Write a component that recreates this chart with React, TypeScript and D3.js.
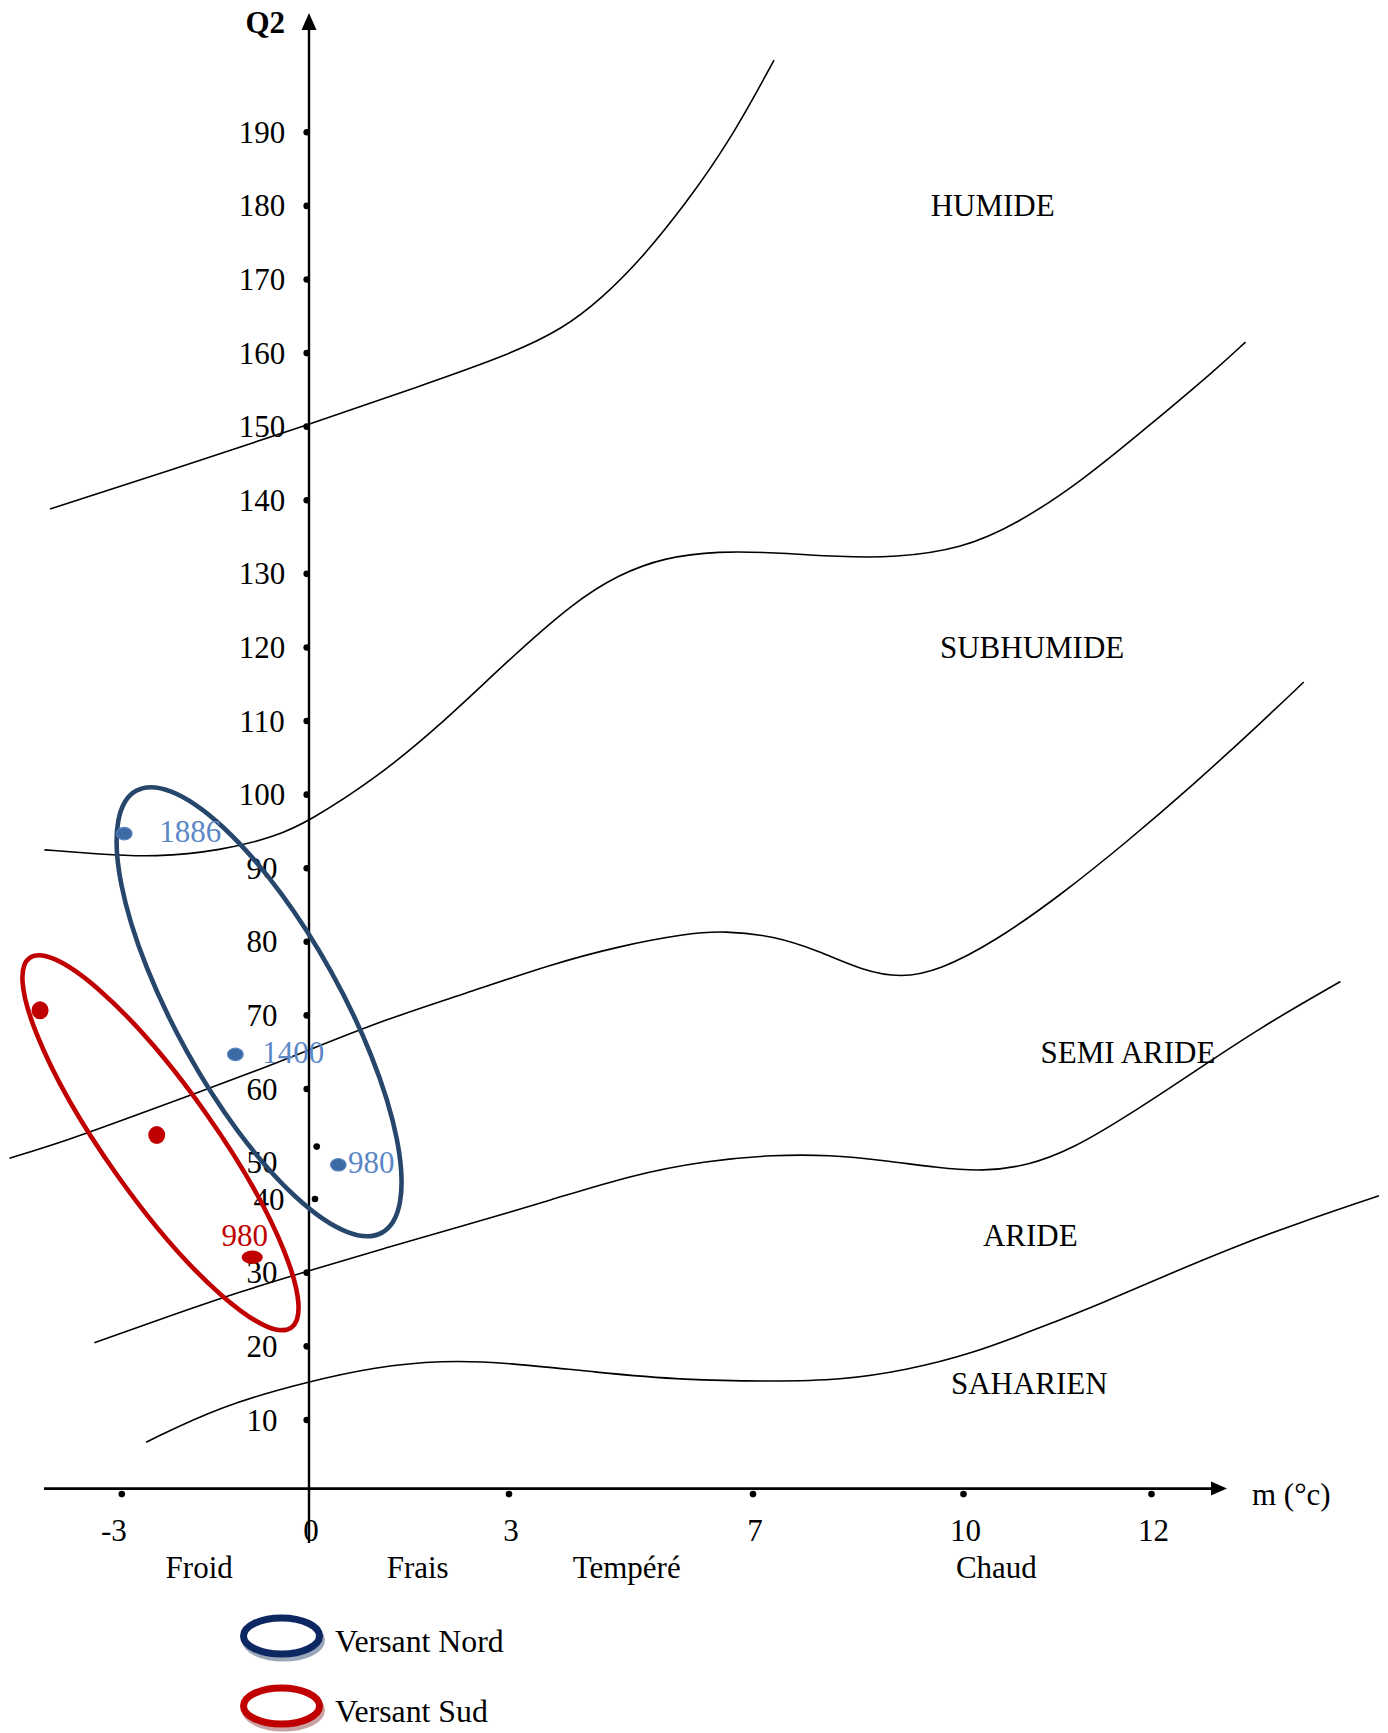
import React, { useEffect, useRef } from 'react';
import * as d3 from 'd3';

// Climagramme d'Emberger : Q2 en fonction de m (°c)

const xTicks = [-3, 0, 3, 7, 10, 12];
const yTicks = [10, 20, 30, 40, 50, 60, 70, 80, 90, 100, 110, 120, 130, 140, 150, 160, 170, 180, 190];

const zoneLabels = ['Froid', 'Frais', 'Tempéré', 'Chaud'];
const zoneM = [-1.76, 1.63, 4.93, 10.35];

const stageLabels = ['HUMIDE', 'SUBHUMIDE', 'SEMI ARIDE', 'ARIDE', 'SAHARIEN'];
const stageM = [10.31, 10.73, 11.75, 10.71, 10.7];
const stageQ = [180, 120, 65, 35, 15];

// limites entre étages [m, Q2]
const humideLimit: [number, number][] = [
  [-4.15, 138.8], [-2.29, 143.9], [0, 150.3], [1.66, 155.5], [2.98, 159.7], [3.89, 163.3],
  [4.53, 167.5], [5.16, 172.7], [5.89, 180.2], [6.62, 188.8], [7.3, 199.8],
];
const subhumideLimit: [number, number][] = [
  [-4.24, 92.5], [-3.35, 91.9], [-2.47, 91.5], [-1.41, 92.4], [-0.53, 94.3], [0, 96.4],
  [0.99, 102.1], [1.99, 109.6], [2.98, 118.2], [4.07, 126.2], [4.8, 129.9], [5.53, 132.2],
  [6.44, 133.1], [7.3, 132.9], [8.24, 132.3], [9.02, 132.2], [9.97, 133.4], [10.56, 136.7],
  [11.27, 142.7], [11.98, 150.2], [12.68, 157.7], [13.0, 161.5],
];
const semiAridLimit: [number, number][] = [
  [-4.8, 50.6], [-3.88, 53.0], [-2.82, 56.3], [-1.76, 59.6], [-0.71, 62.9], [0, 65.3],
  [1.16, 69.5], [2.32, 72.9], [3.71, 77.0], [4.8, 79.4], [5.89, 81.1], [6.53, 81.5],
  [7.3, 80.8], [7.93, 78.8], [8.56, 76.1], [9.11, 75.1], [9.65, 76.1], [10.33, 80.0],
  [11.04, 86.4], [11.74, 93.6], [12.45, 101.4], [13.15, 109.6], [13.62, 115.3],
];
const aridLimit: [number, number][] = [
  [-3.44, 20.5], [-2.29, 23.95], [-1.06, 27.55], [0, 30.25], [1.16, 33.4], [2.32, 36.4],
  [3.71, 39.9], [4.98, 46.5], [6.25, 50.3], [7.3, 51.05], [8.08, 51.05], [8.87, 50.3],
  [9.65, 48.5], [10.21, 47.6], [10.68, 49.1], [11.15, 51.8], [11.74, 56.3], [12.45, 62.3],
  [13.15, 68.3], [14.01, 74.6],
];
const saharienLimit: [number, number][] = [
  [-2.61, 6.77], [-1.41, 11.95], [0, 15.25], [0.99, 17.2], [1.99, 18.1], [2.98, 17.8],
  [4.44, 16.45], [5.89, 15.4], [7.3, 15.25], [8.24, 15.4], [9.18, 16.75], [10.09, 19.0],
  [10.8, 22.45], [11.51, 26.05], [12.21, 29.95], [12.92, 33.7], [13.62, 37.0], [14.42, 40.9],
];

// stations (altitude)
const nordStations = ['1886', '1400', '980'];
const nordM = [-2.96, -1.18, 0.44];
const nordQ = [94.7, 64.7, 49.4];
const nordLabelM = [-2.4, -0.75, 0.585];
const nordLabelQ = [95, 65, 50];

const sudStations = ['', '', '980'];
const sudM = [-4.31, -2.44, -0.91];
const sudQ = [70.7, 53.75, 32.1];
const sudLabelM = [-4.31, -2.44, -1.03];
const sudLabelQ = [70.7, 53.75, 35];

const nordCenter = [-0.8, 70.5];
const sudCenter = [-2.38, 52.7];

const font = '"Liberation Serif", "Times New Roman", serif';

const App: React.FC = () => {
  const ref = useRef<SVGSVGElement>(null);

  useEffect(() => {
    if (!ref.current) return;
    const svg = d3.select(ref.current);
    svg.selectAll('*').remove();

    // the drawing is not to scale, so both scales are piecewise
    const x = d3.scaleLinear().domain(xTicks).range([121.8, 309, 509, 753, 963.5, 1151.5]);
    const y = d3.scaleLinear().domain([0, 10, 40, 50, 190]).range([1488.6, 1420, 1199, 1162.6, 132.3]);
    const x0 = x(0);
    const y0 = y(0);

    const line = d3.line<[number, number]>()
      .x(d => x(d[0]))
      .y(d => y(d[1]))
      .curve(d3.curveBasis);

    [humideLimit, subhumideLimit, semiAridLimit, aridLimit, saharienLimit].forEach(c => {
      svg.append('path')
        .attr('d', line(c))
        .attr('fill', 'none')
        .attr('stroke', '#000')
        .attr('stroke-width', 1.6);
    });

    // axes
    svg.append('line')
      .attr('x1', x0).attr('x2', x0).attr('y1', 28).attr('y2', 1543)
      .attr('stroke', '#000').attr('stroke-width', 2.4);
    svg.append('path')
      .attr('d', `M${x0},13 L${x0 - 7.5},30 L${x0 + 7.5},30 Z`)
      .attr('fill', '#000');
    svg.append('line')
      .attr('x1', 44).attr('x2', 1213).attr('y1', y0).attr('y2', y0)
      .attr('stroke', '#000').attr('stroke-width', 2.6);
    svg.append('path')
      .attr('d', `M1227,${y0} L1211,${y0 - 7} L1211,${y0 + 7} Z`)
      .attr('fill', '#000');

    svg.append('text')
      .attr('x', x0 - 24).attr('y', 33)
      .attr('text-anchor', 'end')
      .attr('font-family', font).attr('font-size', 31).attr('font-weight', 'bold')
      .text('Q2');
    svg.append('text')
      .attr('x', 1252).attr('y', y0 + 16)
      .attr('font-family', font).attr('font-size', 31)
      .text('m (°c)');

    // y ticks
    const yt = svg.append('g');
    yTicks.forEach(t => {
      const off = t === 50 ? [7.7, -16] : t === 40 ? [6, 0] : [-2.3, 0];
      yt.append('circle')
        .attr('cx', x0 + off[0]).attr('cy', y(t) + off[1]).attr('r', 3.3).attr('fill', '#000');
      yt.append('text')
        .attr('x', t === 40 ? x0 - 40 : x0 - 47).attr('y', y(t))
        .attr('text-anchor', 'middle').attr('dominant-baseline', 'central')
        .attr('font-family', font).attr('font-size', 31)
        .text(t);
    });

    // x ticks
    const xt = svg.append('g');
    xTicks.forEach(t => {
      if (t !== 0) {
        xt.append('circle').attr('cx', x(t)).attr('cy', y0 + 5.5).attr('r', 3.3).attr('fill', '#000');
      }
      xt.append('text')
        .attr('x', x(t) + (t === -3 ? -8 : 2)).attr('y', y0 + 42)
        .attr('text-anchor', 'middle').attr('dominant-baseline', 'central')
        .attr('font-family', font).attr('font-size', 31)
        .text(t);
    });
    zoneLabels.forEach((z, i) => {
      xt.append('text')
        .attr('x', x(zoneM[i])).attr('y', y0 + 79)
        .attr('text-anchor', 'middle').attr('dominant-baseline', 'central')
        .attr('font-family', font).attr('font-size', 31)
        .text(z);
    });

    // étages bioclimatiques
    stageLabels.forEach((s, i) => {
      svg.append('text')
        .attr('x', x(stageM[i])).attr('y', y(stageQ[i]))
        .attr('text-anchor', 'middle').attr('dominant-baseline', 'central')
        .attr('font-family', font).attr('font-size', 31)
        .text(s);
    });

    // enveloppes
    const envelope = (c: number[], rx: number, ry: number, angle: number, color: string) => {
      const cx = x(c[0]);
      const cy = y(c[1]);
      svg.append('ellipse')
        .attr('cx', cx).attr('cy', cy).attr('rx', rx).attr('ry', ry)
        .attr('transform', `rotate(${angle},${cx},${cy})`)
        .attr('fill', 'none').attr('stroke', color).attr('stroke-width', 4.6);
    };
    envelope(nordCenter, 252.8, 82.4, 60.9, '#26466c');
    envelope(sudCenter, 226.4, 54.1, 54.7, '#c00000');

    // stations
    nordStations.forEach((s, i) => {
      svg.append('ellipse')
        .attr('cx', x(nordM[i])).attr('cy', y(nordQ[i])).attr('rx', 7.8).attr('ry', 6.2)
        .attr('fill', '#3d69a5').attr('stroke', '#5a84bf').attr('stroke-width', 1.2);
      svg.append('text')
        .attr('x', x(nordLabelM[i])).attr('y', y(nordLabelQ[i]))
        .attr('dominant-baseline', 'central')
        .attr('font-family', font).attr('font-size', 31).attr('fill', '#5b87c6')
        .text(s);
    });
    sudStations.forEach((s, i) => {
      svg.append('ellipse')
        .attr('cx', x(sudM[i])).attr('cy', y(sudQ[i]))
        .attr('rx', i === 2 ? 10.5 : 8.5).attr('ry', i === 2 ? 6.8 : 9)
        .attr('fill', '#c00000');
      if (s) {
        svg.append('text')
          .attr('x', x(sudLabelM[i])).attr('y', y(sudLabelQ[i]))
          .attr('text-anchor', 'middle').attr('dominant-baseline', 'central')
          .attr('font-family', font).attr('font-size', 31).attr('fill', '#c00000')
          .text(s);
      }
    });

    // légende
    const legend = [
      { label: 'Versant Nord', color: '#0c2762', shadow: '#9aa7b9', cy: 1636 },
      { label: 'Versant Sud', color: '#c00000', shadow: '#c9a3a3', cy: 1706 },
    ];
    legend.forEach(l => {
      svg.append('ellipse')
        .attr('cx', 283.5).attr('cy', l.cy + 4).attr('rx', 38).attr('ry', 18)
        .attr('fill', 'none').attr('stroke', l.shadow).attr('stroke-width', 7);
      svg.append('ellipse')
        .attr('cx', 281.5).attr('cy', l.cy).attr('rx', 38).attr('ry', 18)
        .attr('fill', '#fff').attr('stroke', l.color).attr('stroke-width', 7);
      svg.append('text')
        .attr('x', 335).attr('y', l.cy + 5)
        .attr('dominant-baseline', 'central')
        .attr('font-family', font).attr('font-size', 31.8)
        .text(l.label);
    });
  }, []);

  return (
    <svg
      ref={ref}
      width={1388}
      height={1733}
      style={{ position: 'absolute', left: 0, top: 0, background: '#fff' }}
    />
  );
};

export default App;
